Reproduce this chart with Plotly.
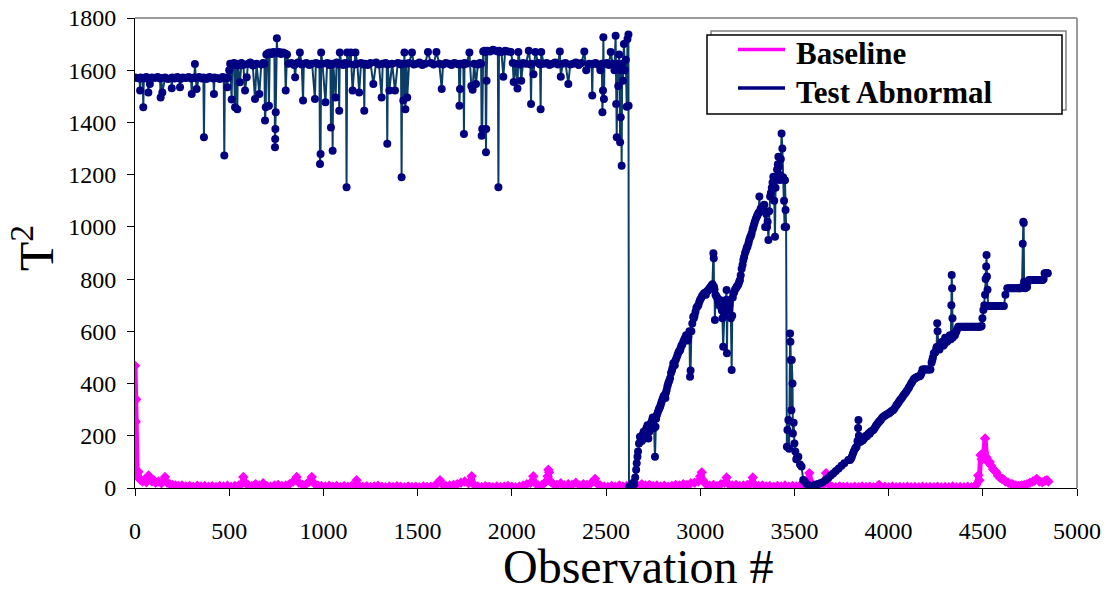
import plotly.graph_objects as go

# ---------------- Test Abnormal series (observation #, T^2) ----------------
test_obs_1 = [0,12,24,27,30,41,44,47,60,68, 71,74,79,90,105,120,133,136,139,145,
              160,175,192,195,198,210,225,236,239,242, 255,270,285,298,301,304,315,318,321,327,
              340,355,363,366,369,380,395,410,416,419, 422,435,450,465,471,474,477,487,490,493]
test_t2_1 = [1572,1570,1568,1522,1572,1570,1458,1568,1574,1570, 1515,1568,1547,1572,1570,1574,1568,1496,1570,1515,
             1572,1566,1570,1531,1572,1568,1574,1570,1535,1566, 1572,1570,1574,1568,1509,1570,1572,1624,1570,1528,
             1574,1568,1572,1343,1570,1566,1574,1570,1568,1509, 1572,1570,1566,1574,1570,1273,1568,1572,1535,1570]

test_obs_2 = [500,505,513,516,525,531,534,540,543,546, 557,565,575,584,593,600,612,625,637,645,
              660,670,680,687,690,694,697,705,711,715, 725,735,740,743,744,745,747,750,753,756,
              765,775,785,795,800,807,815,830,845,850, 855,865,875,885,892,896,910,925,940,955,
              960,970,979,982,985,988,995,1011,1020,1030, 1037,1040,1046,1049,1052,1065,1070,1081,1084,1087,
              1095]
test_t2_2 = [1600,1625,1488,1620,1628,1458,1622,1625,1451,1618, 1554,1628,1620,1522,1573,1625,1630,1618,1490,1625,
             1509,1622,1628,1625,1407,1458,1660,1665,1464,1668, 1662,1670,1665,1305,1337,1375,1439,1668,1722,1665,
             1670,1662,1668,1665,1522,1660,1625,1628,1620,1573, 1625,1630,1668,1622,1484,1625,1628,1620,1625,1490,
             1628,1625,1622,1241,1279,1668,1625,1477,1628,1620, 1625,1381,1622,1292,1625,1496,1630,1622,1445,1668,
             1625]

test_obs_3 = [1105,1115,1120,1123,1126,1135,1145,1155,1165,1170, 1180,1190,1200,1214,1217,1220,1235,1250,1265,1280,
              1295,1309,1315,1330,1336,1339,1342,1350,1365,1380, 1395,1410,1412,1415,1418,1424,1430,1435,1440,1445,
              1455,1470,1480,1495,1510,1525,1540,1555,1570,1585, 1600,1615,1628,1635,1650,1665,1680,1695,1710,1719,
              1722,1725,1728,1743,1746,1749,1760,1775,1785,1792]
test_t2_3 = [1620,1628,1625,1152,1668,1625,1668,1522,1622,1668, 1625,1515,1628,1622,1445,1625,1620,1628,1547,1630,
             1622,1496,1625,1628,1625,1318,1622,1522,1625,1522, 1628,1625,1622,1190,1625,1484,1668,1451,1625,1496,
             1628,1668,1622,1625,1630,1620,1625,1670,1628,1622, 1670,1625,1528,1622,1628,1625,1620,1628,1625,1622,
             1464,1528,1625,1622,1356,1628,1625,1668,1540,1525]

test_obs_4 = [1800,1810,1820,1830,1837,1840,1843,1848,1855,1860, 1863,1864,1866,1870,1885,1900,1915,1926,1929,1932,
              1945,1955,1965,1980,1995,2005,2010,2020,2030,2035, 2045,2050,2060,2075,2090,2099,2102,2105,2115,2125,
              2140,2150,2153,2156,2170,2185,2200,2215,2230,2245, 2255,2260,2270,2285,2300,2310,2325,2340,2355,2370,
              2385,2395,2410,2424,2427,2430,2445,2460,2470,2478, 2481,2484,2486,2489,2492,2505,2515,2525,2535,2545,
              2551,2554,2557,2560,2565,2570,2575,2578,2580,2583, 2586,2590,2595,2600,2605,2610,2614,2619,2620]
test_t2_4 = [1625,1547,1622,1628,1625,1349,1375,1672,1675,1670, 1286,1375,1560,1675,1672,1678,1675,1672,1152,1675,
             1670,1575,1675,1672,1670,1628,1555,1625,1530,1670, 1622,1560,1628,1625,1675,1622,1471,1625,1585,1670,
             1628,1622,1451,1670,1625,1628,1620,1625,1630,1622, 1672,1575,1625,1628,1547,1622,1625,1630,1620,1628,
             1672,1600,1625,1622,1503,1625,1628,1620,1600,1625, 1439,1522,1726,1490,1625,1628,1620,1670,1625,1600,
             1732,1471,1343,1625,1540,1660,1324,1420,1600,1234, 1625,1560,1700,1600,1640,1460,1720,1737,1464]

test_obs_5 = [2622,2630,2640,2650,2655,2663,2670,2675,2680,2690, 2700,2707,2715,2725,2735,2745,2751,2755,2760,2763,
              2770,2780,2787,2795,2805,2815,2822,2830,2840,2850, 2857,2865,2875,2885,2893,2900,2910,2920,2930,2937,
              2943,2946,2949,2953,2963,2970,2980,2990,2999,3010, 3020,3030,3034,3045,3055,3065,3070,3072,3073,3076,
              3078,3081,3090,3100,3105,3112,3118,3122,3126,3133, 3140,3142,3145,3152,3158,3163,3167,3170,3176,3185,
              3194,3203,3211,3220,3229,3238,3247,3256,3265,3273, 3282,3290,3300,3307,3314,3317,3325,3335,3345,3350,
              3355,3362,3366,3371,3380,3388,3393,3397,3400,3408, 3415,3420,3424,3428,3432,3436,3440,3445,3448,3450,
              3453,3456]
test_t2_5 = [5,3,8,15,40,95,140,170,196,180, 215,209,230,190,245,260,260,230,120,235,
             280,300,311,330,350,345,375,400,420,450, 477,470,500,520,528,545,560,575,570,579,
             600,426,450,600,656,660,690,700,720,735, 745,740,752,760,770,780,899,880,771,760,
             643,740,730,700,720,690,650,541,660,690, 758,516,700,680,720,650,452,660,745,760,
             771,780,797,840,873,900,920,937,960,975, 1000,1020,1039,1050,1116,1060,1060,1080,1000,1050,
             1000,950,1060,1116,1150,1192,1100,962,1150,1220, 1269,1200,1180,1260,1358,1300,1190,1100,1000,1179,
             1065,1000]

test_obs_5b = [2627,2635,2645,2660,2667,2685,2695,2703,2712,2720, 2730,2740,2748,2766,2775,2783,2791,2800,2810,2818,
               2826,2835,2845,2853,2861,2870,2880,2889,2896,2905, 2915,2925,2933,2958,2966,2975,2985,2995,3005,3015,
               3025,3040,3050,3060,3085,3095,3108,3115,3130,3137, 3148,3155,3173,3180,3190,3198,3207,3215,3225,3233,
               3243,3251,3260,3269,3278,3286,3295,3304,3311,3321, 3330,3340,3358,3375,3384,3404,3412,3418]
test_t2_5b = [2,10,20,70,120,185,205,190,222,240, 215,250,270,265,290,305,320,340,355,365,
              390,410,440,460,480,490,510,525,535,550, 568,585,565,630,650,675,695,712,728,740,
              748,755,765,775,735,715,705,680,700,720, 690,700,730,750,765,775,790,815,855,885,
              910,925,950,965,990,1010,1030,1045,1055,1070, 1065,1085,1020,1130,1170,1180,1240,1230]

test_obs_6 = [3460,3463,3468,3472,3477,3479,3481,3484,3486,3490, 3492,3496,3500,3505,3510,3515,3521,3530,3538,3547,
              3555,3565,3575,3583,3595,3610,3625,3637,3650,3665, 3680,3693,3706,3720,3735,3750,3765,3786]
test_t2_6 = [158,222,260,150,592,560,490,298,490,400, 209,250,170,140,110,120,120,90,82,31,
             25,15,10,5,8,12,15,18,22,30, 38,48,56,65,75,85,95,107]

test_obs_7 = [3795,3805,3815,3822,3830,3835,3838,3840,3842,3845, 3855,3864,3875,3890,3905,3919,3930,3945,3960,3972,
              3985,4000,4012,4025,4040,4050,4061,4075,4090,4105, 4118,4131,4140,4150,4165,4175,4180,4195,4210,4222,
              4228,4235,4240,4248,4255,4258,4260,4262,4270,4280, 4290,4300,4310,4320,4325,4330,4333,4335,4337,4339,
              4341,4345,4352,4360,4370,4385,4400,4415,4430,4445, 4460,4475,4488,4494,4498,4503,4508,4512,4515,4518,
              4520,4522,4525,4528,4540,4555,4570,4585,4600,4612, 4620,4630,4645,4660,4675,4690,4700,4708,4712,4715,
              4717,4719,4725,4735,4745,4760,4775,4790,4805,4818, 4828,4838,4845]
test_t2_7 = [107,120,140,150,158,180,230,260,200,175, 180,184,195,205,215,222,235,250,262,273,
             280,285,292,299,315,325,337,350,365,381, 398,414,420,425,428,440,454,454,454,454,
             480,500,516,520,540,631,600,540,530,555, 545,575,560,570,585,570,700,816,765,650,
             576,590,585,600,618,618,618,618,618,618, 618,618,618,620,650,682,700,740,800,848,
             892,810,759,697,697,697,697,697,697,697, 740,765,765,765,765,765,765,770,935,1020,
             1015,790,765,770,797,797,797,797,797,797, 822,822,822]

test_obs_7b = [3800,3810,3826,3850,3860,3870,3880,3885,3895,3900, 3910,3925,3935,3940,3950,3955,3965,3978,3992,4005,
               4018,4032,4045,4055,4068,4082,4097,4110,4124,4135, 4145,4158,4170,4185,4190,4200,4215,4232,4244,4252,
               4265,4275,4285,4295,4305,4315,4348,4356,4365,4375, 4392,4408,4422,4438,4452,4468,4482,4533,4548,4562,
               4578,4593,4606,4638,4652,4668,4683,4695,4730,4740, 4752,4768,4782,4798,4812,4823,4833,4842]
test_t2_7b = [112,130,155,178,182,190,200,198,210,208, 218,228,240,245,255,258,268,276,282,288,
              296,305,320,330,343,358,372,388,405,417, 422,427,432,454,454,454,454,490,518,530,
              535,550,560,550,570,565,588,595,610,618, 618,618,618,618,618,618,618,697,697,697,
              697,697,697,765,765,765,765,765,768,790, 797,797,797,797,797,800,822,822]

# ---------------- Baseline series ----------------
base_obs_1 = [0,2,4,6,8,12,18,24,30,40, 50,60,72,80,90,100,110,125,140,159,
              170,185,200,215,230,250,270,290,310,330, 350,370,390,410,430,450,470,490,510,530,
              550,565,575,585,600,620,640,660,680,700, 720,740,760,780,800,820,840,858,870,890,
              910,925,938,950,970,990,1010,1030,1050,1070, 1090,1110,1130,1150,1165,1176,1190,1210,1230,1250,
              1270,1290,1310,1330,1350,1370,1390,1410,1430,1450, 1470,1490,1510,1530,1550,1570,1590]
base_t2_1 = [468,337,254,340,60,45,62,35,30,25, 32,22,48,38,25,30,20,25,18,42,
             20,15,12,10,8,10,6,8,5,9, 6,8,5,7,4,8,6,9,5,8,
             10,15,42,20,12,8,15,10,18,8, 5,10,12,8,10,15,25,42,20,12,
             15,25,42,18,10,8,6,9,5,8, 4,7,5,8,12,30,8,5,7,4,
             6,9,5,3,6,4,7,5,3,6, 4,5,3,6,4,5,8]

base_obs_2 = [1605,1619,1630,1650,1670,1690,1710,1730,1750,1770, 1787,1800,1820,1840,1860,1880,1900,1920,1940,1960,
              1980,2000,2020,2040,2060,2080,2100,2114,2125,2140, 2160,2175,2190,2194,2198,2205,2220,2240,2260,2280,
              2300,2320,2340,2360,2380,2400,2420,2442,2455,2470, 2490,2510,2530,2550,2570,2590,2610,2630,2650,2670,
              2690,2710,2730,2750,2770,2790,2810,2830,2850,2870, 2890,2910,2930,2950,2970,2990,3000,3008,3015,3030,
              3050,3070,3090,3110,3130,3140,3150,3170,3190,3210, 3230,3250,3265,3279,3290]
base_t2_2 = [18,30,15,8,10,12,15,20,25,18, 45,12,6,4,7,5,3,6,4,5,
             8,5,3,6,10,15,20,45,18,10, 12,20,45,70,60,25,15,12,18,10,
             15,12,20,10,15,12,18,35,15,10, 6,4,8,5,10,6,8,5,12,8,
             15,10,12,8,10,6,9,5,8,12, 10,15,12,18,20,25,45,60,30,15,
             10,12,8,15,20,40,15,10,12,8, 10,12,15,40,12]

base_obs_3 = [3310,3330,3350,3370,3390,3410,3430,3450,3470,3490, 3510,3530,3550,3565,3579,3590,3610,3630,3650,3668,
              3680,3700,3720,3740,3760,3780,3800,3820,3840,3860, 3880,3900,3920,3940,3950,3960,3980,4000,4020,4040,
              4060,4080,4100,4120,4140,4160,4180,4200,4220,4240, 4260,4280,4300,4320,4340,4360,4380,4400,4420,4440,
              4455,4465,4476,4482,4488,4494,4500,4505,4512,4515, 4520,4527,4537,4545,4555,4565,4572,4580,4590,4600,
              4607,4620,4635,4650,4660,4675,4690,4705,4720,4735, 4750,4765,4775,4786,4800,4815,4830,4840,4848]
base_t2_3 = [8,10,6,8,5,8,6,10,5,8, 6,10,12,20,57,20,8,6,10,57,
             15,5,3,6,4,5,3,5,3,6, 4,5,3,6,12,4,5,3,5,3,
             4,3,5,3,4,3,5,3,4,3, 5,3,4,3,6,3,4,3,5,3,
             6,12,48,30,126,110,120,135,190,120, 115,100,100,85,72,65,60,48,40,35,
             35,25,20,15,15,10,8,10,12,15, 20,25,28,35,25,22,28,30,25]

x_ticks = [0, 500, 1000, 1500, 2000, 2500, 3000, 3500, 4000, 4500, 5000]
y_ticks = [0, 200, 400, 600, 800, 1000, 1200, 1400, 1600, 1800]
series_names = ["Baseline", "Test Abnormal"]

test_pairs = sorted(
    zip(test_obs_1 + test_obs_2 + test_obs_3 + test_obs_4 + test_obs_5 + test_obs_5b
        + test_obs_6 + test_obs_7 + test_obs_7b,
        test_t2_1 + test_t2_2 + test_t2_3 + test_t2_4 + test_t2_5 + test_t2_5b
        + test_t2_6 + test_t2_7 + test_t2_7b),
    key=lambda p: p[0])
test_obs = [p[0] for p in test_pairs]
test_t2 = [p[1] for p in test_pairs]
base_obs = base_obs_1 + base_obs_2 + base_obs_3
base_t2 = base_t2_1 + base_t2_2 + base_t2_3

SERIF = "Liberation Serif, Times New Roman, serif"
MAGENTA = "#FF00FF"
NAVY = "#000080"
TEAL = "#0B3D66"

W, H = 1107, 590
ML, MR, MT, MB = 135, 30, 18, 102
PW, PH = W - ML - MR, H - MT - MB


def px(xpix):
    return (xpix - ML) / PW


def py(ypix):
    return (H - MB - ypix) / PH


fig = go.Figure()
fig.add_trace(go.Scatter(
    x=base_obs, y=base_t2, mode="lines+markers", name=series_names[0],
    line=dict(color=MAGENTA, width=5),
    marker=dict(symbol="diamond", size=8, color=MAGENTA),
    showlegend=False))
fig.add_trace(go.Scatter(
    x=test_obs, y=test_t2, mode="lines+markers", name=series_names[1],
    line=dict(color=TEAL, width=2),
    marker=dict(symbol="circle", size=8, color=NAVY),
    showlegend=False))

axis_common = dict(
    showgrid=False, zeroline=False, showline=True, linecolor="black", linewidth=1,
    ticks="outside", ticklen=7, tickcolor="black", tickwidth=1, automargin=False,
    tickfont=dict(family=SERIF, size=24, color="black"),
)
fig.update_xaxes(range=[0, 5000], tickvals=x_ticks, ticklabelstandoff=14, **axis_common)
fig.update_yaxes(range=[0, 1800], tickvals=y_ticks, ticklabelstandoff=6, **axis_common)

shapes = [
    dict(type="line", xref="paper", yref="paper", x0=0, x1=1, y0=1, y1=1,
         line=dict(color="#9a9a9a", width=2)),
    dict(type="line", xref="paper", yref="paper", x0=1, x1=1, y0=0, y1=1,
         line=dict(color="#9a9a9a", width=2)),
    dict(type="rect", xref="paper", yref="paper", x0=px(711), x1=px(1066), y0=py(110), y1=py(31),
         line=dict(color="#808080", width=1.5), fillcolor="rgba(0,0,0,0)"),
    dict(type="rect", xref="paper", yref="paper", x0=px(707), x1=px(1062), y0=py(114), y1=py(35),
         line=dict(color="black", width=1.5), fillcolor="white"),
    dict(type="line", xref="paper", yref="paper", x0=px(738), x1=px(785), y0=py(49.5), y1=py(49.5),
         line=dict(color=MAGENTA, width=3.5)),
    dict(type="line", xref="paper", yref="paper", x0=px(738), x1=px(785), y0=py(88), y1=py(88),
         line=dict(color=NAVY, width=3.5)),
]

annotations = [
    dict(text="<b>" + series_names[0] + "</b>", xref="paper", yref="paper", x=px(794), y=py(53),
         xanchor="left", yanchor="middle", showarrow=False,
         font=dict(family=SERIF, size=31, color="black")),
    dict(text="<b>" + series_names[1] + "</b>", xref="paper", yref="paper", x=px(794), y=py(93),
         xanchor="left", yanchor="middle", showarrow=False,
         font=dict(family=SERIF, size=31, color="black")),
    dict(text="Observation #", xref="paper", yref="paper", x=px(638), y=py(566),
         xanchor="center", yanchor="middle", showarrow=False,
         font=dict(family=SERIF, size=48, color="black")),
    dict(text="T<sup>2</sup>", xref="paper", yref="paper", x=px(33), y=py(248),
         xanchor="center", yanchor="middle", showarrow=False, textangle=-90,
         font=dict(family=SERIF, size=48, color="black")),
]

fig.update_layout(
    width=W, height=H,
    margin=dict(l=ML, r=MR, t=MT, b=MB, pad=0),
    paper_bgcolor="white", plot_bgcolor="white",
    showlegend=False,
    shapes=shapes, annotations=annotations,
)

fig.write_html("out.html")
